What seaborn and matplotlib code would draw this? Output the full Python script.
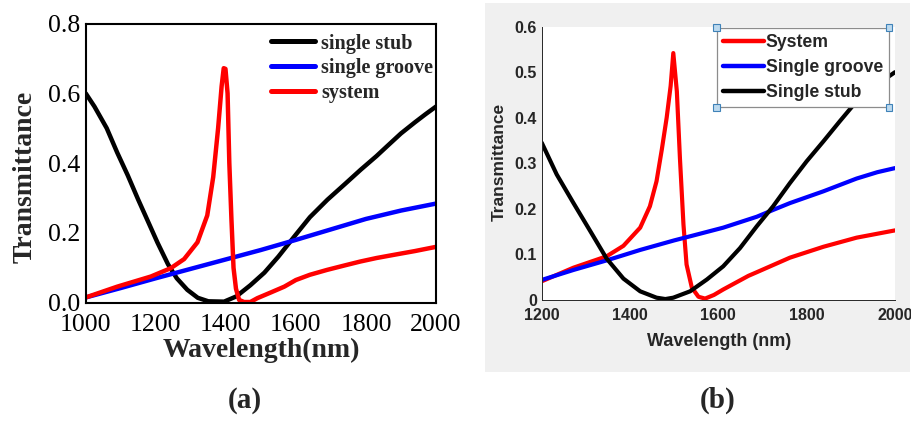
import numpy as np
import pandas as pd
import matplotlib
matplotlib.use("Agg")
import matplotlib.pyplot as plt
import seaborn as sns
from matplotlib.lines import Line2D
from matplotlib.patches import Rectangle
from matplotlib.ticker import MultipleLocator

# ---------------- data: panel (a) ----------------
stub_a_x = [1000, 1025, 1060, 1090, 1120, 1150, 1180, 1205, 1235, 1260, 1290, 1320, 1350, 1395,
            1430, 1470, 1510, 1550, 1595, 1640, 1690, 1740, 1785, 1830, 1860, 1900, 1940, 1970, 2000]
stub_a_y = [0.600, 0.562, 0.500, 0.430, 0.365, 0.295, 0.228, 0.172, 0.110, 0.070, 0.037, 0.014, 0.004, 0.003,
            0.018, 0.050, 0.086, 0.132, 0.189, 0.245, 0.295, 0.340, 0.381, 0.420, 0.448, 0.485, 0.517, 0.540, 0.562]

groove_a_x = [1000, 1100, 1200, 1300, 1400, 1500, 1600, 1700, 1800, 1900, 2000]
groove_a_y = [0.015, 0.042, 0.070, 0.097, 0.124, 0.151, 0.180, 0.210, 0.240, 0.264, 0.284]

system_a_x = [1000, 1090, 1186, 1243, 1281, 1319, 1347, 1364, 1378, 1388, 1394, 1399, 1405, 1410, 1416,
              1422, 1429, 1438, 1452, 1470, 1490, 1530, 1567, 1600, 1640, 1689, 1740, 1784, 1830, 1879, 1940, 2000]
system_a_y = [0.015, 0.046, 0.075, 0.099, 0.125, 0.173, 0.250, 0.360, 0.500, 0.620, 0.672, 0.670, 0.600, 0.400, 0.240,
              0.100, 0.040, 0.008, 0.002, 0.002, 0.013, 0.030, 0.046, 0.065, 0.080, 0.094, 0.107, 0.118, 0.128, 0.137, 0.148, 0.160]

names_a = ["single stub", "single groove", "system"]

# ---------------- data: panel (b) ----------------
system_b_x = [1200, 1272, 1347, 1385, 1423, 1445, 1460, 1472, 1483, 1492, 1498, 1506, 1513, 1521, 1528,
              1540, 1555, 1570, 1590, 1611, 1668, 1687, 1762, 1838, 1913, 2000]
system_b_y = [0.040, 0.070, 0.095, 0.118, 0.158, 0.205, 0.260, 0.330, 0.400, 0.470, 0.542, 0.458, 0.311, 0.165, 0.077,
              0.026, 0.006, 0.002, 0.010, 0.022, 0.052, 0.060, 0.092, 0.116, 0.136, 0.152]

groove_b_x = [1200, 1272, 1347, 1423, 1500, 1540, 1611, 1687, 1724, 1762, 1838, 1913, 1960, 2000]
groove_b_y = [0.043, 0.065, 0.086, 0.109, 0.130, 0.140, 0.158, 0.182, 0.197, 0.212, 0.238, 0.266, 0.280, 0.289]

stub_b_x = [1200, 1234, 1272, 1309, 1347, 1385, 1423, 1460, 1480, 1498, 1536, 1574, 1611, 1649, 1687, 1724,
            1762, 1800, 1838, 1875, 1913, 1955, 2000]
stub_b_y = [0.345, 0.275, 0.212, 0.152, 0.090, 0.046, 0.018, 0.004, 0.001, 0.004, 0.018, 0.044, 0.073, 0.113,
            0.161, 0.205, 0.256, 0.304, 0.348, 0.392, 0.436, 0.470, 0.500]

names_b = ["System", "Single groove", "Single stub"]

xticks_a = [1000, 1200, 1400, 1600, 1800, 2000]
yticks_a = [0.0, 0.2, 0.4, 0.6, 0.8]
xticks_b = [1200, 1400, 1600, 1800, 2000]
yticks_b = [0, 0.1, 0.2, 0.3, 0.4, 0.5, 0.6]

# ---------------- build tables ----------------
df_a = pd.concat([
    pd.DataFrame({"Wavelength": stub_a_x, "T": stub_a_y, "series": names_a[0]}),
    pd.DataFrame({"Wavelength": groove_a_x, "T": groove_a_y, "series": names_a[1]}),
    pd.DataFrame({"Wavelength": system_a_x, "T": system_a_y, "series": names_a[2]}),
], ignore_index=True)
df_b = pd.concat([
    pd.DataFrame({"Wavelength": system_b_x, "T": system_b_y, "series": names_b[0]}),
    pd.DataFrame({"Wavelength": groove_b_x, "T": groove_b_y, "series": names_b[1]}),
    pd.DataFrame({"Wavelength": stub_b_x, "T": stub_b_y, "series": names_b[2]}),
], ignore_index=True)

pal_a = {names_a[0]: "#000000", names_a[1]: "#0000ff", names_a[2]: "#ff0000"}
pal_b = {names_b[0]: "#ff0000", names_b[1]: "#0000ff", names_b[2]: "#000000"}

sns.set_style("white")
plt.rcParams["font.family"] = ["DejaVu Sans"]

W, H = 911, 428
fig = plt.figure(figsize=(W / 100, H / 100), dpi=100)
fig.patch.set_facecolor("white")


def fx(px):
    return px / W


def fy(py):
    return 1 - py / H


# gray background of panel (b)
fig.patches.append(Rectangle((fx(485), fy(372)), fx(910) - fx(485), fy(3) - fy(372),
                             transform=fig.transFigure, facecolor="#f0f0f0",
                             edgecolor="none", zorder=-5))

axA = fig.add_axes([fx(85.7), fy(302.7), fx(436) - fx(85.7), fy(23.5) - fy(302.7)])
axB = fig.add_axes([fx(541.7), fy(299.5), fx(895) - fx(541.7), fy(26.7) - fy(299.5)])
axB.set_facecolor("white")

# ---------------- panel (a) ----------------
sns.lineplot(data=df_a, x="Wavelength", y="T", hue="series", hue_order=names_a,
             palette=pal_a, estimator=None, sort=False, linewidth=3.2, legend=False, ax=axA)
axA.set_xlim(1000, 2000)
axA.set_ylim(0, 0.8)
serif = "Liberation Serif"
axA.set_xticks(xticks_a, labels=[str(v) for v in xticks_a], fontfamily=serif, fontsize=18.5)
axA.set_yticks(yticks_a, labels=[f"{v:.1f}" for v in yticks_a], fontfamily=serif, fontsize=18.5)
axA.xaxis.set_minor_locator(MultipleLocator(100))
axA.yaxis.set_minor_locator(MultipleLocator(0.1))
axA.tick_params(axis="both", which="both", direction="in", length=5, width=1.2,
                color="black", labelcolor="black")
axA.tick_params(axis="x", which="major", pad=8)
axA.tick_params(axis="y", which="major", pad=4)
for sp in axA.spines.values():
    sp.set_visible(True)
    sp.set_color("black")
    sp.set_linewidth(1.5)
axA.set_xlabel("Wavelength(nm)", fontfamily=serif, fontweight="bold", fontsize=20)
axA.set_ylabel("Transmittance", fontfamily=serif, fontweight="bold", fontsize=20)
axA.xaxis.label.set_va("center")
axA.yaxis.label.set_va("center")
axA.xaxis.set_label_coords(0.502, -0.172)
axA.yaxis.set_label_coords(-0.173, 0.451)

hA = [Line2D([], [], color=pal_a[n], lw=3.6) for n in names_a]
legA = axA.legend(hA, names_a, loc="upper left", bbox_to_anchor=(fx(271), fy(33.5)),
                  bbox_transform=fig.transFigure, frameon=False,
                  prop={"family": serif, "weight": "bold", "size": 14.5},
                  handlelength=2.2, handletextpad=0.3, labelspacing=0.23,
                  borderpad=0, borderaxespad=0)

# ---------------- panel (b) ----------------
sns.lineplot(data=df_b, x="Wavelength", y="T", hue="series", hue_order=names_b,
             palette=pal_b, estimator=None, sort=False, linewidth=3.0, legend=False, ax=axB)
axB.set_xlim(1200, 2000)
axB.set_ylim(0, 0.6)
sans = "Liberation Sans"
gray = "#262626"
axB.set_xticks(xticks_b, labels=[str(v) for v in xticks_b], fontfamily=sans,
               fontweight="bold", fontsize=11.5)
axB.set_yticks(yticks_b, labels=[("0" if v == 0 else f"{v:.1f}") for v in yticks_b],
               fontfamily=sans, fontweight="bold", fontsize=11.5)
axB.tick_params(axis="both", which="major", direction="in", length=3.5, width=0.6,
                color=gray, labelcolor=gray)
axB.tick_params(axis="x", pad=6)
axB.tick_params(axis="y", pad=3.5)
axB.spines["top"].set_visible(False)
axB.spines["right"].set_visible(False)
for s in ("left", "bottom"):
    axB.spines[s].set_visible(True)
    axB.spines[s].set_color(gray)
    axB.spines[s].set_linewidth(0.7)
axB.set_xlabel("Wavelength (nm)", fontfamily=sans, fontweight="bold", fontsize=13, color=gray)
axB.set_ylabel("Transmittance", fontfamily=sans, fontweight="bold", fontsize=12.5, color=gray)
axB.xaxis.label.set_va("center")
axB.yaxis.label.set_va("center")
axB.xaxis.set_label_coords(0.502, -0.153)
axB.yaxis.set_label_coords(-0.121, 0.503)

hB = [Line2D([], [], color=pal_b[n], lw=3.2) for n in names_b]
legB = axB.legend(hB, names_b, loc="upper left", bbox_to_anchor=(fx(716.7), fy(27.7)),
                  bbox_transform=fig.transFigure, frameon=True, fancybox=False,
                  framealpha=1, edgecolor="#8c8c8c", facecolor="white",
                  prop={"family": sans, "weight": "bold", "size": 12.7},
                  handlelength=2.35, handletextpad=0.1, labelspacing=0.47,
                  borderpad=0.34, borderaxespad=0)
legB.get_frame().set_linewidth(0.9)
legB.set_zorder(10)

# panel tags
fig.text(fx(245), fy(400), "(a)", ha="center", va="center", fontfamily=serif,
         fontweight="bold", fontsize=21)
fig.text(fx(718), fy(400), "(b)", ha="center", va="center", fontfamily=serif,
         fontweight="bold", fontsize=21)

# selection handles at legend (b) corners
fig.canvas.draw()
bb = legB.get_window_extent()
s = 6.5
for cx, cy in [(bb.x0, bb.y0), (bb.x1, bb.y0), (bb.x0, bb.y1), (bb.x1, bb.y1)]:
    fig.add_artist(Rectangle(((cx - s / 2) / W, (cy - s / 2) / H), s / W, s / H,
                             transform=fig.transFigure, facecolor="#bcd9ee",
                             edgecolor="#3f82b8", linewidth=0.8, zorder=20))

fig.savefig("out.png", dpi=100)
